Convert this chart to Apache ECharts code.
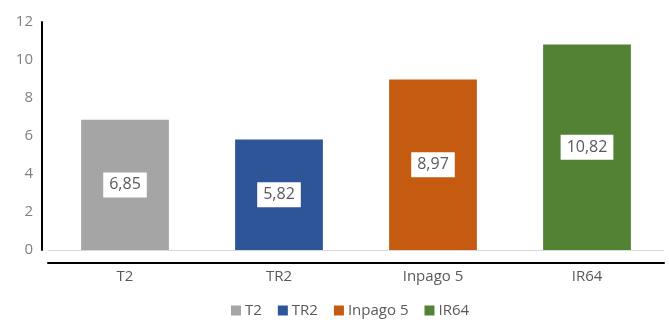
<!DOCTYPE html>
<html>
<head>
<meta charset="utf-8">
<script src="https://cdn.jsdelivr.net/npm/echarts@6/dist/echarts.min.js"></script>
<style>html,body{margin:0;padding:0;background:#fff}#c{width:669px;height:320px}</style>
</head>
<body>
<div id="c"></div>
<script>
var categories = ['T2', 'TR2', 'Inpago 5', 'IR64'];
var values = [6.85, 5.82, 8.97, 10.82];
var colors = ['#A5A5A5', '#2E5597', '#C55A11', '#548235'];
var yTicks = { min: 0, max: 12, interval: 2 };

var series = categories.map(function (name, i) {
  var data = categories.map(function (c, j) { return j === i ? values[i] : '-'; });
  return {
    name: name,
    type: 'bar',
    stack: 'all',
    barWidth: '57%',
    data: data,
    itemStyle: { color: colors[i] },
    label: {
      show: true,
      position: 'inside',
      formatter: function (p) { return String(p.value).replace('.', ','); },
      backgroundColor: '#fff',
      color: '#595959',
      fontFamily: 'Open Sans, sans-serif',
      fontSize: 16,
      padding: [5, 6, 4, 6]
    }
  };
});

var chart = echarts.init(document.getElementById('c'));
chart.setOption({
  animation: false,
  textStyle: { fontFamily: 'Open Sans, sans-serif' },
  grid: { left: 48, right: 5, top: 22, bottom: 70 },
  legend: {
    bottom: -3,
    left: 226,
    itemWidth: 10,
    itemHeight: 10,
    itemGap: 16,
    icon: 'rect',
    textStyle: { color: '#595959', fontSize: 15, padding: [0, 0, 0, -1] },
    data: categories
  },
  xAxis: [{
    type: 'category',
    data: categories,
    offset: 13,
    axisLine: { show: true, onZero: false, lineStyle: { color: '#000', width: 2 } },
    axisTick: { show: false },
    axisLabel: { color: '#595959', fontSize: 15, margin: 6 }
  }, {
    type: 'category',
    data: categories,
    position: 'bottom',
    axisLine: { show: true, onZero: false, lineStyle: { color: '#D9D9D9', width: 1 } },
    axisTick: { show: false },
    axisLabel: { show: false }
  }],
  yAxis: {
    type: 'value',
    min: yTicks.min,
    max: yTicks.max,
    interval: yTicks.interval,
    offset: 6,
    axisLine: { show: true, onZero: false, lineStyle: { color: '#000', width: 2 } },
    axisTick: { show: false },
    splitLine: { show: false },
    axisLabel: { color: '#808080', fontSize: 15, margin: 9 }
  },
  series: series
});
</script>
</body>
</html>
